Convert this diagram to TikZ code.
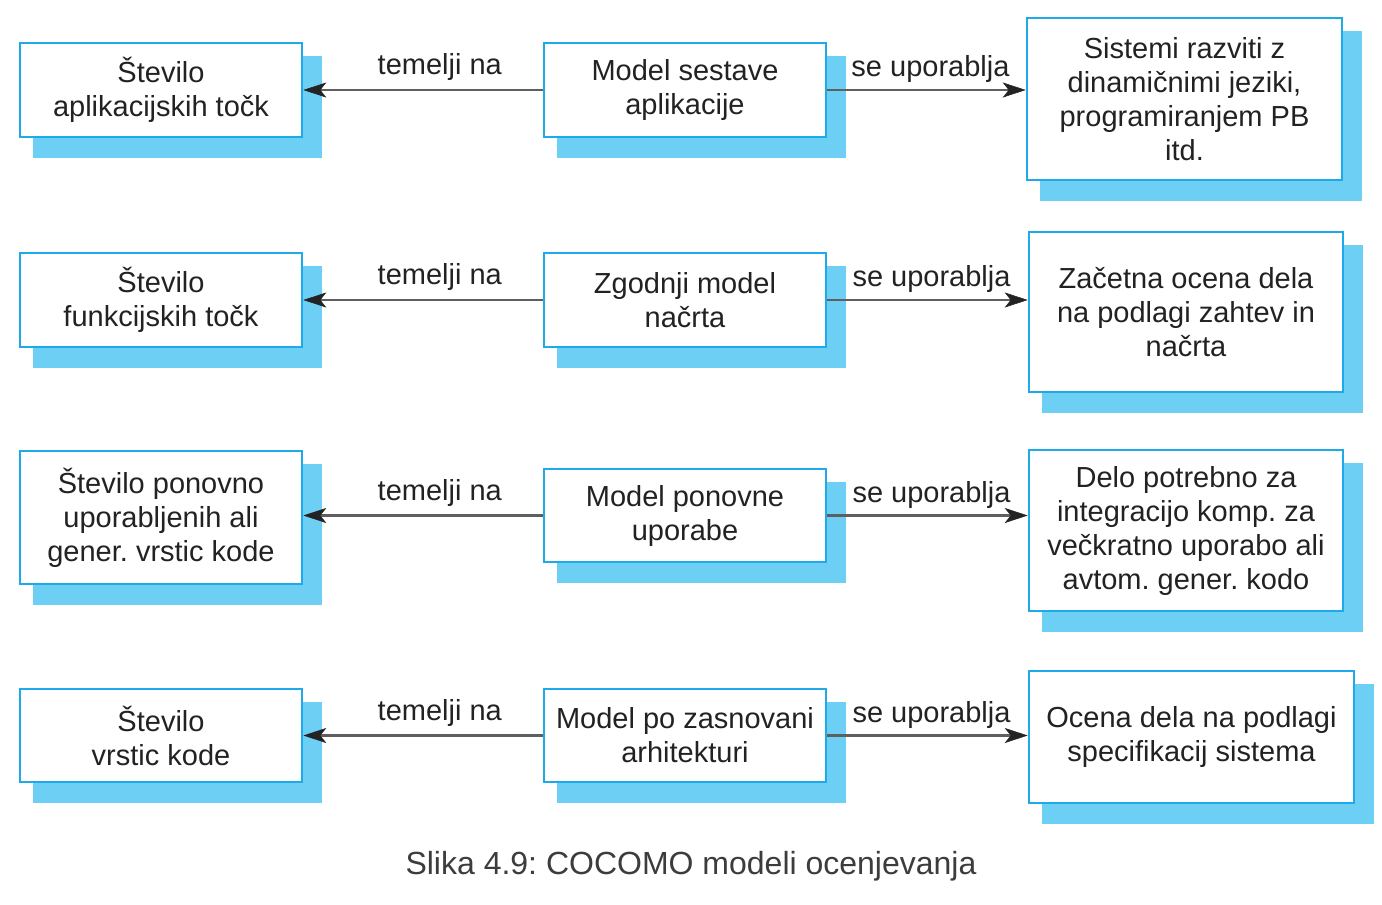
\documentclass[tikz,border=0pt]{standalone}
\usepackage{fontspec}
\setmainfont{Liberation Sans}
\frenchspacing
\usetikzlibrary{arrows.meta,backgrounds}
\definecolor{boxc}{RGB}{30,170,232}
\definecolor{shadowc}{RGB}{110,207,245}
\definecolor{txtc}{RGB}{34,34,34}
\definecolor{arrc}{RGB}{95,95,95}
\definecolor{headc}{RGB}{35,35,35}
\definecolor{capc}{RGB}{60,60,60}
\tikzset{
  box/.style={draw=boxc, line width=2.6pt, fill=white, align=center, inner sep=0pt,
    text=txtc, font=\fontsize{29}{34}\selectfont},
  lbl/.style={text=txtc, font=\fontsize{29}{34}\selectfont, inner sep=0pt},
  conn/.style={draw=arrc, line width=2.2pt,
    -{Stealth[length=23pt,width=15pt,inset=6pt,color=headc,fill=headc,line width=0.5pt]}},
}
\newcommand{\shadowof}[1]{%
  \fill[shadowc] ([shift={(14,-20)}]#1.south west) rectangle ([shift={(19,-14)}]#1.north east);}
\begin{document}
\begin{tikzpicture}[x=1pt,y=1pt]
\useasboundingbox (0,0) rectangle (1382,-905);
% row 1
\node[box, minimum width=282, minimum height=94] (L1) at (161,-90) {Število\\aplikacijskih točk};
\node[box, minimum width=282, minimum height=94] (M1) at (685,-90) {Model sestave\\aplikacije};
\node[box, minimum width=315, minimum height=162] (R1) at (1184.5,-99) {Sistemi razviti z\\dinamičnimi jeziki,\\programiranjem PB\\itd.};
% row 2
\node[box, minimum width=282, minimum height=94] (L2) at (161,-300) {Število\\funkcijskih točk};
\node[box, minimum width=282, minimum height=94] (M2) at (685,-300) {Zgodnji model\\načrta};
\node[box, minimum width=314, minimum height=160] (R2) at (1186,-312) {Začetna ocena dela\\na podlagi zahtev in\\načrta};
% row 3
\node[box, minimum width=282, minimum height=133] (L3) at (161,-517.5) {Število ponovno\\uporabljenih ali\\gener. vrstic kode};
\node[box, minimum width=282, minimum height=93] (M3) at (685,-515.5) {Model ponovne\\uporabe};
\node[box, minimum width=314, minimum height=161] (R3) at (1186,-530.5) {Delo potrebno za\\integracijo komp. za\\večkratno uporabo ali\\avtom. gener. kodo};
% row 4
\node[box, minimum width=282, minimum height=93] (L4) at (161,-735.5) {Število\\vrstic kode};
\node[box, minimum width=282, minimum height=93] (M4) at (685,-735.5) {Model po zasnovani\\arhitekturi};
\node[box, minimum width=325, minimum height=132] (R4) at (1191.5,-737) {Ocena dela na podlagi\\specifikacij sistema};
% shadows
\begin{scope}[on background layer]
\foreach \n in {L1,M1,R1,L2,M2,R2,L3,M3,R3,L4,M4,R4}{\shadowof{\n}}
\end{scope}
% connectors
\foreach \r in {1,2,3,4}{
  \draw[conn] (M\r.west) -- (M\r.west -| L\r.east)
     node[lbl, pos=0.43, yshift=23pt] {temelji na};
  \draw[conn] (M\r.east) -- (M\r.east -| R\r.west)
     node[lbl, pos=0.52, yshift=21pt] {se uporablja};
}
% caption
\node[text=capc, font=\fontsize{32}{38}\selectfont, inner sep=0pt] (cap) at (691,-866) {Slika 4.9: COCOMO modeli ocenjevanja};
\end{tikzpicture}
\end{document}
